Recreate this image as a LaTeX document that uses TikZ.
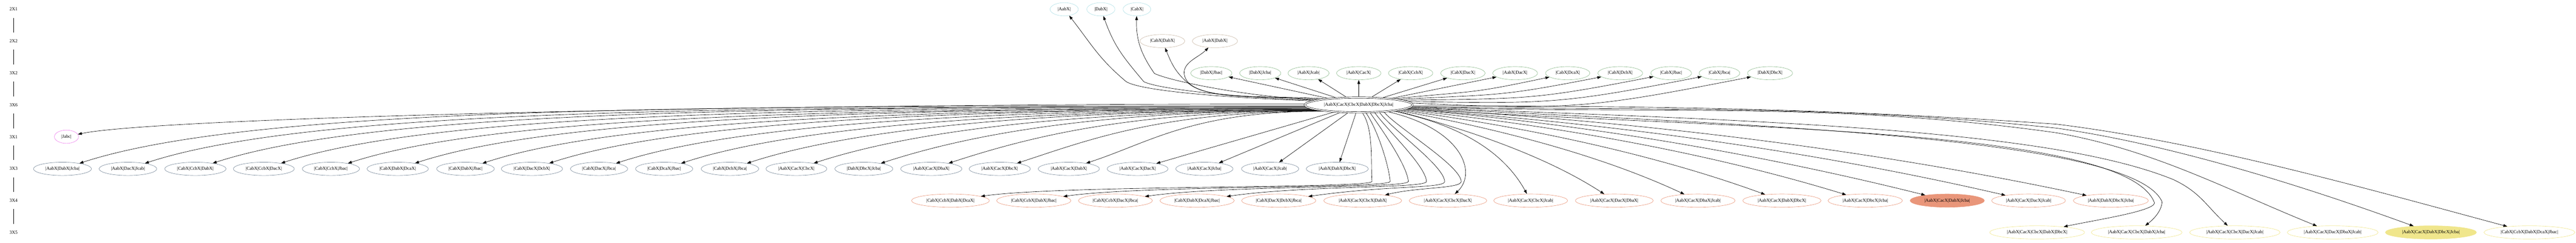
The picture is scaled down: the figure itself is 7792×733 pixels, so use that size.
\documentclass[tikz,border=0pt]{standalone}
\usepackage{fontspec}
\setmainfont{Liberation Serif}
\usetikzlibrary{shapes.geometric,arrows.meta}
\definecolor{pbl}{HTML}{B0E0E6}
\definecolor{bge}{HTML}{CBBBA9}
\definecolor{dsg}{HTML}{8FBC8F}
\definecolor{lsg}{HTML}{778899}
\definecolor{dsal}{HTML}{E9967A}
\definecolor{khk}{HTML}{F0E68C}
\definecolor{vio}{HTML}{EE82EE}
\begin{document}
\begin{tikzpicture}[x=0.25pt,y=0.25pt,line join=round,>={Triangle[length=3pt,width=2.1pt]},
  font=\fontsize{3.5}{4.2}\selectfont,
  st/.style={ellipse,draw=#1,line width=0.25pt,minimum height=10pt,inner xsep=2.65pt,inner ysep=0pt},
  stf/.style={st=#1,fill=#1},
  rk/.style={minimum height=12.5pt,inner sep=0pt},
  ed/.style={->,line width=0.25pt}]
\useasboundingbox (0,0) rectangle (7792,-733);
\foreach \lab [count=\k] in {2X1,2X2,3X2,3X6,3X1,3X3,3X4,3X5}
  \node[rk] (l\k) at (41,{-28-96.3*(\k-1)}) {\lab};
\foreach \k [evaluate=\k as \j using int(\k+1)] in {1,...,7}
  \draw[line width=0.25pt] (l\k) -- (l\j);
\node[ellipse,draw,line width=0.25pt,double,double distance=0.75pt,minimum height=11.25pt,inner xsep=2.65pt,inner ysep=0pt,outer sep=0.625pt] (hub) at (4110,-317) {|AabX|CacX|CbcX|DabX|DbcX|Jcba|};
% upper ranks
\foreach \x/\lab [count=\k] in {3219/{|AabX|},3330/{|DabX|},3439/{|CabX|}}
  \node[st=pbl] (c\k) at (\x,-28) {\lab};
\node[st=bge] (e1) at (3516,-124) {|CabX|DabX|};
\node[st=bge] (e2) at (3675,-124) {|AabX|DabX|};
\foreach \x/\lab [count=\k] in {3664/{|DabX|Jbac|},3812/{|DabX|Jcba|},3958/{|AabX|Jcab|},4110/{|AabX|CacX|},4267/{|CabX|CcbX|},4425/{|CabX|DacX|},4583/{|AabX|DacX|},4742/{|CabX|DcaX|},4901/{|CabX|DcbX|},5055/{|CabX|Jbac|},5201/{|CabX|Jbca|},5354/{|DabX|DbcX|}}
  \node[st=dsg] (g\k) at (\x,-221) {\lab};
\foreach \k in {1,...,7} \draw[ed] (hub) -- (g\k);
\foreach \k/\s/\o/\i/\d in {8/10/5.6/192/250,9/8/2.9/191/312,10/6/0.8/191/372,11/4/-1/191/429,12/2/-2.6/191/489}
  \draw[ed] (hub.\s) .. controls +(\o:\d) and +(\i:\d) .. (g\k.\i);
\coordinate (ve1) at (3595,-252);
\coordinate (ve2) at (3584,-232);
\draw[ed] (hub.172) .. controls +(176:155) and +(-40:80) .. (ve1) .. controls +(140:51) and +(-68:51) .. (e1.292);
\draw[ed] (hub.170) .. controls +(176:167) and +(-72:80) .. (ve2) .. controls +(108:44) and +(-135:44) .. (e2.225);
\coordinate (vc1) at (3407,-247);
\coordinate (vc2) at (3460,-247);
\coordinate (vc3) at (3492,-222);
\draw[ed] (hub.175) .. controls +(178:230) and +(-30:60) .. (vc1) .. controls +(140:110) and +(-52:110) .. (c1.308);
\draw[ed] (hub.174) .. controls +(178:200) and +(-25:60) .. (vc2) .. controls +(130:99) and +(-70:99) .. (c2.290);
\draw[ed] (hub.173) .. controls +(178:190) and +(-25:60) .. (vc3) .. controls +(125:71) and +(-92:71) .. (c3.268);
% lower ranks
\node[st=vio] (jabc) at (201,-413) {|Jabc|};
\draw[ed] (hub.179) .. controls +(180:1800) and +(12:230) .. (jabc.12);
\foreach \x/\lab [count=\k] in {189/{|AabX|DabX|Jcba|},387/{|AabX|DacX|Jcab|},591/{|CabX|CcbX|DabX|},798/{|CabX|CcbX|DacX|},1001/{|CabX|CcbX|Jbac|},1203/{|CabX|DabX|DcaX|},1408/{|CabX|DabX|Jbac|},1609/{|CabX|DacX|DcbX|},1812/{|CabX|DacX|Jbca|},2009/{|CabX|DcaX|Jbac|},2208/{|CabX|DcbX|Jbca|},2409/{|AabX|CacX|CbcX|},2613/{|DabX|DbcX|Jcba|},2817/{|AabX|CacX|DbaX|},3024/{|AabX|CacX|DbcX|},3233/{|AabX|CacX|DabX|},3441/{|AabX|CacX|DacX|},3643/{|AabX|CacX|Jcba|},3842/{|AabX|CacX|Jcab|},4045/{|AabX|DabX|DbcX|}}{
  \node[st=lsg] (b\k) at (\x,-510) {\lab};
  \pgfmathsetmacro\dd{4110-\x}
  \pgfmathsetmacro\da{0.45*\dd}
  \pgfmathsetmacro\db{100+0.12*\dd}
  \pgfmathtruncatemacro\an{181+0.6*\k}
  \ifnum\k<17
    \draw[ed] (hub.\an) .. controls +(180:\da) and +(18:\db) .. (b\k.18);
  \fi
}
\foreach \k/\s/\e in {17/196/16,18/202/22,19/216/36,20/251/71}
  \draw[ed] (hub.\s) -- (b\k.\e);
\foreach \nm/\x/\lab in {o1/2875/{|CabX|CcbX|DabX|DcaX|},o2/3127/{|CabX|CcbX|DabX|Jbac|},o3/3374/{|CabX|CcbX|DacX|Jbca|},o4/3621/{|CabX|DabX|DcaX|Jbac|},o5/3868/{|CabX|DacX|DcbX|Jbca|},o6/4122/{|AabX|CacX|CbcX|DabX|},o7/4380/{|AabX|CacX|CbcX|DacX|},o8/4630/{|AabX|CacX|CbcX|Jcab|},o9/4883/{|AabX|CacX|DacX|DbaX|},o10/5136/{|AabX|CacX|DbaX|Jcab|},o11/5390/{|AabX|CacX|DabX|DbcX|},o12/5642/{|AabX|CacX|DbcX|Jcba|},o14/6136/{|AabX|CacX|DacX|Jcab|},o15/6385/{|AabX|DabX|DbcX|Jcba|}}
  \node[st=dsal] (\nm) at (\x,-606) {\lab};
\node[stf=dsal] (o13) at (5890,-606) {|AabX|CacX|DabX|Jcba|};
\foreach \k/\a in {1/295,2/312,3/325,4/334,5/340}{
  \pgfmathsetmacro\vx{4150+55*(\k-1)}
  \coordinate (vo\k) at (\vx,-548);
  \draw[ed] (hub.\a) .. controls +(-55:60) and +(95:50) .. (vo\k)
    .. controls +(-90:22) and +(8:250) .. (o\k.8);
}
\coordinate (vo6) at (4420,-548);
\draw[ed] (hub.344) .. controls +(-50:60) and +(95:50) .. (vo6)
  .. controls +(-90:22) and +(14:100) .. (o6.14);
\draw[ed] (hub.347) .. controls (4420,-390) and (4470,-520) .. (o7.44);
\draw[ed] (hub.350) .. controls (4450,-385) and (4560,-480) .. (o8.119);
\foreach \k/\a/\o/\i/\d in {9/351/-14.6/147/215,10/352/-10.3/155/289,11/353/-7.7/160/367,12/354/-5.9/163/447,13/355/-4.7/166/526,14/355/-3.9/167/606,15/356/-3.2/168/685}
  \draw[ed] (hub.\a) .. controls +(\o:\d) and +(\i:\d) .. (o\k.\i);
\foreach \nm/\x/\lab in {y1/6162/{|AabX|CacX|CbcX|DabX|DbcX|},y2/6463/{|AabX|CacX|CbcX|DabX|Jcba|},y3/6760/{|AabX|CacX|CbcX|DacX|Jcab|},y4/7056/{|AabX|CacX|DacX|DbaX|Jcab|},y6/7651/{|CabX|CcbX|DabX|DcaX|Jbac|}}
  \node[st=khk] (\nm) at (\x,-702) {\lab};
\node[stf=khk] (y5) at (7353,-702) {|AabX|CacX|DabX|DbcX|Jcba|};
\coordinate (vy1) at (6517,-613);
\coordinate (vy2) at (6540,-610);
\coordinate (vy3) at (6573,-542);
\coordinate (vy4) at (6220,-401);
\coordinate (vy5) at (6220,-387);
\coordinate (vy6) at (6220,-375);
\draw[ed] (hub.356) .. controls +(-4:900) and +(110:250) .. (vy1)
  .. controls +(-95:25) and +(12:100) .. (y1.12);
\draw[ed] (hub.357) .. controls +(-3:950) and +(113:220) .. (vy2)
  .. controls +(-95:30) and +(38:30) .. (y2.38);
\draw[ed] (hub.357) .. controls +(-2:1100) and +(158:400) .. (vy3)
  .. controls +(-25:90) and +(137:90) .. (y3.137);
\draw[ed] (hub.358) .. controls +(-2:700) and +(172:700) .. (vy4)
  .. controls +(-10:300) and +(158:300) .. (y4.158);
\draw[ed] (hub.358) .. controls +(-1:700) and +(174:700) .. (vy5)
  .. controls +(-8:350) and +(160:350) .. (y5.160);
\draw[ed] (hub.359) .. controls +(0:700) and +(176:700) .. (vy6)
  .. controls +(-7:450) and +(165:450) .. (y6.165);
\end{tikzpicture}
\end{document}
